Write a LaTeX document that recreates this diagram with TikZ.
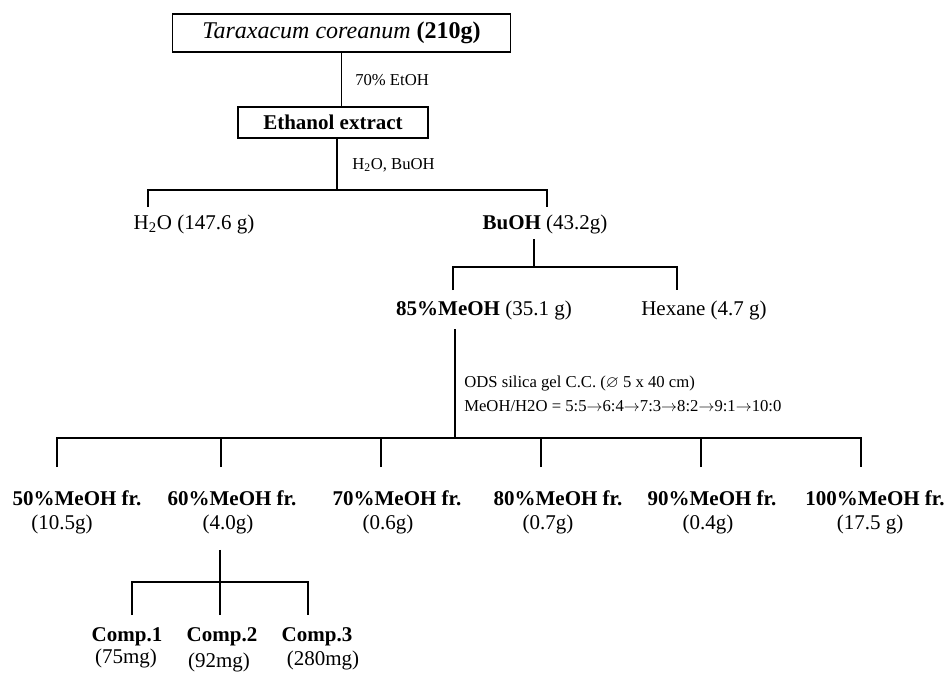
\documentclass[tikz,border=0pt]{standalone}
\usepackage{fontspec}
\setmainfont{Liberation Serif}
\usepackage{amssymb}
\usetikzlibrary{calc}
\newcommand{\titlefont}{\fontsize{18}{21}\selectfont}
\newcommand{\labelfont}{\fontsize{15.75}{19}\selectfont}
\newcommand{\condfont}{\fontsize{12.5}{18}\selectfont}
\tikzstyle{box} = [rectangle, draw, line width=0.8pt, inner sep=0pt, font=\labelfont]
\tikzstyle{fraction} = [inner sep=2pt, font=\labelfont]
\tikzstyle{cond} = [inner sep=0pt, anchor=west, align=left, font=\condfont]
\tikzstyle{line} = [draw, line width=0.8pt]

\begin{document}
\begin{tikzpicture}[x=0.75pt, y=-0.75pt]
\useasboundingbox (0,0) rectangle (949,679);
%% Place nodes
\node [box, minimum width=254pt, minimum height=28.5pt, font=\titlefont] (plant) at (341.5,33) {\textit{Taraxacum coreanum} \textbf{(210g)}};
\node [box, minimum width=142.5pt, minimum height=23.25pt] (extract) at (333,122.5) {\textbf{Ethanol extract}};
\node [cond] (etoh) at (355,80) {70\% EtOH};
\node [cond] (partition) at (352,165) {H\textsubscript{2}O, BuOH};
\node [fraction] (water) at (194,224) {H\textsubscript{2}O (147.6 g)};
\node [fraction] (buoh) at (545,224) {\textbf{BuOH} (43.2g)};
\node [fraction] (meoh) at (484,310) {\textbf{85\%MeOH} (35.1 g)};
\node [fraction] (hexane) at (704,310) {Hexane (4.7 g)};
\node [cond] (ods) at (464,394) {ODS silica gel C.C. ($\varnothing$ 5 x 40 cm)\\
  MeOH/H2O = 5:5$\rightarrow$6:4$\rightarrow$7:3$\rightarrow$8:2$\rightarrow$9:1$\rightarrow$10:0};

%% Fractions of the ODS column
\foreach \i/\tick/\nx/\gx/\pct/\amt in {1/57/77/62/50/10.5g, 2/221/232/228/60/4.0g,
    3/381/397/388/70/0.6g, 4/541/558/548/80/0.7g, 5/701/712/708/90/0.4g, 6/861/875/870/100/17.5 g}{
    \node [fraction] (fr\i) at (\nx,498) {\textbf{\pct\%MeOH fr.}};
    \node [fraction] (amt\i) at (\gx,524) {(\amt)};
    \coordinate (tick\i) at (\tick,467);
}

%% Compounds from the 60% fraction
\foreach \i/\tick/\nx/\gx/\gy/\amt in {1/132/127/126/658/75mg, 2/220/222/219/662/92mg, 3/308/317/323/660/280mg}{
    \node [fraction] (comp\i) at (\nx,637) {\textbf{Comp.\i}};
    \node [fraction] (mg\i) at (\gx,\gy) {(\amt)};
    \coordinate (sub\i) at (\tick,615);
}

%% Branch points
\coordinate (split1) at (337,190);
\coordinate (waterTop) at (148,207);
\coordinate (buohTop) at (547,207);
\coordinate (split2) at (534,267);
\coordinate (meohTop) at (453,290);
\coordinate (hexaneTop) at (677,290);
\coordinate (split3) at (455,438);
\coordinate (split4) at (220,582);

%% Draw lines between nodes
\path [line] (plant.south) -- (plant.south |- extract.north);
\path [line] (split1 |- extract.south) -- (split1);
\path [line] (waterTop) -- (waterTop |- split1) -- (buohTop |- split1) -- (buohTop);
\path [line] ([yshift=-2pt]split2 |- buoh.south) -- (split2);
\path [line] (meohTop) -- (meohTop |- split2) -- (hexaneTop |- split2) -- (hexaneTop);
\path [line] ([yshift=-5pt]split3 |- meoh.south) -- (split3);
\path [line] (tick1) -- (tick1 |- split3) -- (tick6 |- split3) -- (tick6);
\foreach \i in {2,...,5}{
    \path [line] (tick\i) -- (tick\i |- split3);
}
\path [line] ([yshift=-10pt]split4 |- amt2.south) -- (split4);
\path [line] (sub1) -- (sub1 |- split4) -- (sub3 |- split4) -- (sub3);
\path [line] (sub2) -- (split4);
\end{tikzpicture}
\end{document}
